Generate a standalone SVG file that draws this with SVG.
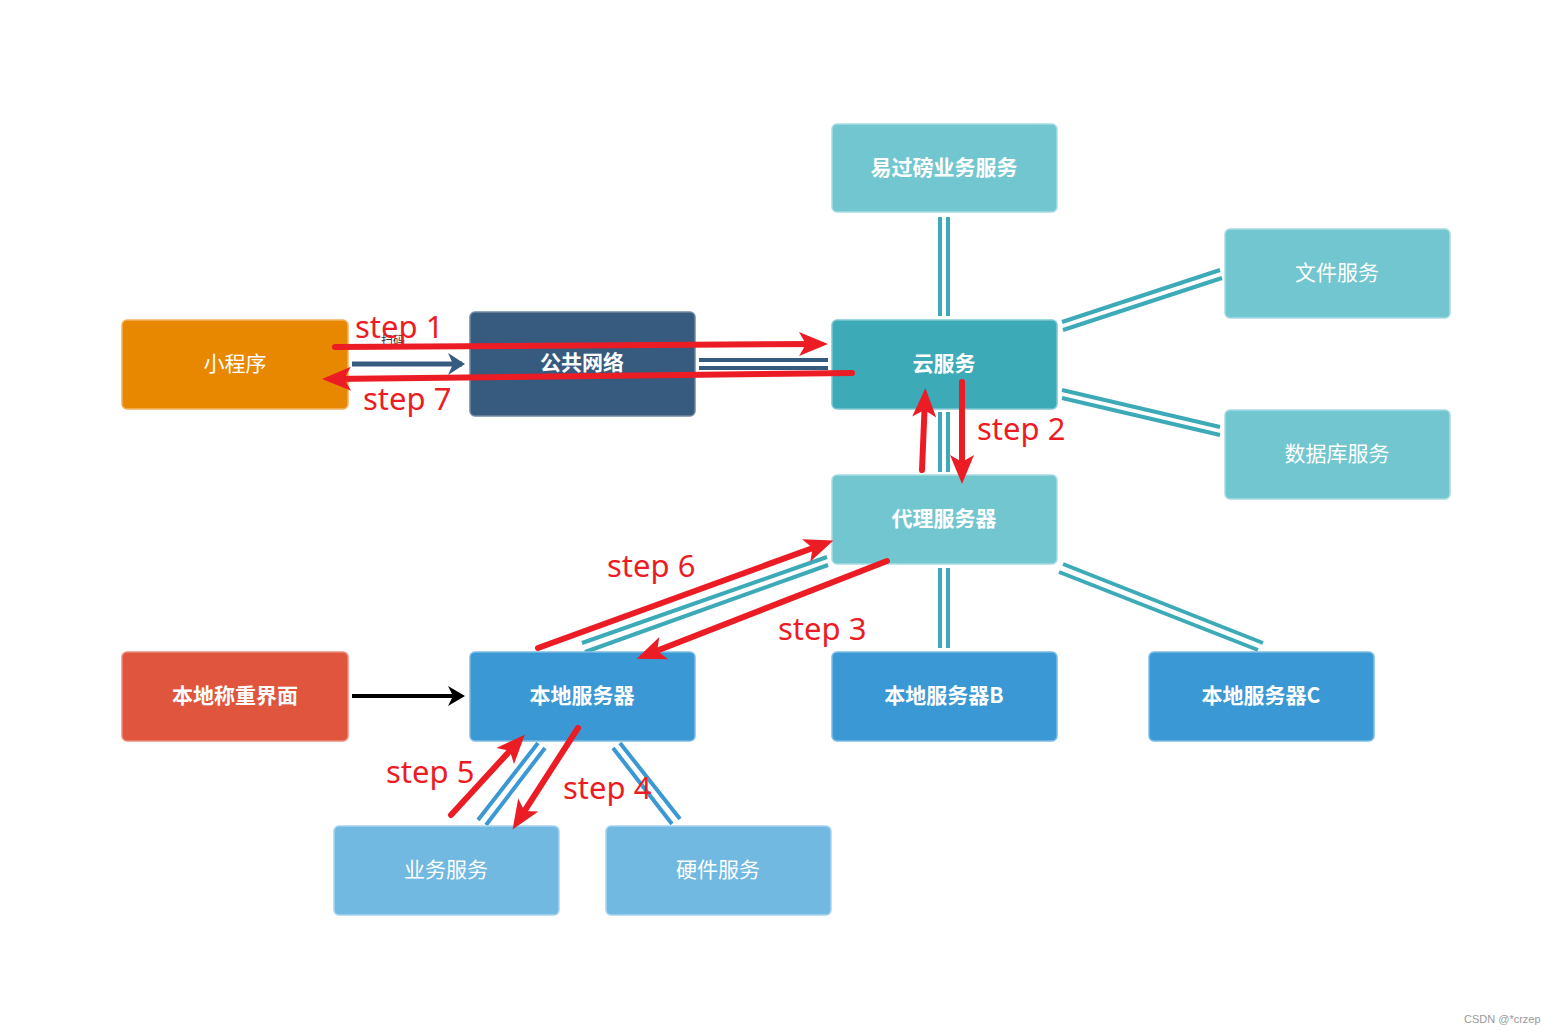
<svg xmlns="http://www.w3.org/2000/svg" width="1558" height="1034" viewBox="0 0 1558 1034">
<style>
.box{stroke-width:1.5;}
.t{font-family:"Noto Sans CJK SC","Noto Sans",sans-serif;fill:#fff;text-anchor:middle;dominant-baseline:central;font-size:21px;}
.b{font-weight:bold;}
.teal{fill:#3DAAB8;stroke:#7CC7D0;}
.lteal{fill:#72C6CF;stroke:#A6DCE2;}
.blue{fill:#3A99D5;stroke:#7DBCE4;}
.lblue{fill:#72B9E2;stroke:#A8D3EE;}
.dl{stroke:#3DAAB8;stroke-width:4;fill:none;}
.dlb{stroke:#3A99D5;stroke-width:4;fill:none;}
.dln{stroke:#375A7F;stroke-width:4;fill:none;}
.red{stroke:#EC1C24;stroke-width:6;stroke-linecap:round;fill:none;marker-end:url(#rh);}
.st{font-family:"Noto Sans","Open Sans",sans-serif;fill:#EC1C24;font-size:31px;}
</style>
<defs>
<marker id="rh" markerUnits="userSpaceOnUse" viewBox="-22 -14 34 28" refX="0" refY="0" markerWidth="34" markerHeight="28" orient="auto">
<path d="M10,0 L-19,-12 L-12,0 L-19,12 Z" fill="#EC1C24"/>
</marker>
<marker id="nh" markerUnits="userSpaceOnUse" viewBox="-20 -14 24 28" refX="0" refY="0" markerWidth="24" markerHeight="28" orient="auto">
<path d="M3,0 L-14,-11 L-9,0 L-14,11 Z" fill="#375A7F"/>
</marker>
<marker id="kh" markerUnits="userSpaceOnUse" viewBox="-20 -12 24 24" refX="0" refY="0" markerWidth="24" markerHeight="24" orient="auto">
<path d="M3,0 L-14,-10 L-9,0 L-14,10 Z" fill="#000"/>
</marker>
</defs>
<rect width="1558" height="1034" fill="#fff"/>

<g id="connectors">
<path class="dl" d="M940,217 V316 M948,217 V316"/>
<path class="dl" d="M1062,322 L1220,270 M1063,330 L1222,278"/>
<path class="dl" d="M1062,390 L1220,427 M1062,398 L1220,435"/>
<path class="dl" d="M940,412 V472 M948,412 V472"/>
<path class="dl" d="M940,568 V648 M948,568 V648"/>
<path class="dl" d="M1063,564 L1263,643 M1059,572 L1258,650"/>
<path class="dl" d="M827,557 L582,643 M828,565 L585,652"/>
<path class="dln" d="M699,360 H828 M699,368 H828"/>
<path class="dlb" d="M538,743 L478,820 M545,748 L486,825"/>
<path class="dlb" d="M613,748 L672,824 M620,743 L680,819"/>
<line x1="352" y1="364" x2="462" y2="364" stroke="#375A7F" stroke-width="5" marker-end="url(#nh)"/>
<line x1="352" y1="696" x2="462" y2="696" stroke="#000" stroke-width="4" marker-end="url(#kh)"/>
</g>

<g id="n-miniapp"><rect class="box" x="122" y="320" width="226" height="89" rx="5" fill="#E88800" stroke="#F2B25E"/><text class="t" x="235" y="362">小程序</text></g>
<g id="n-public"><rect class="box" x="470" y="312" width="225" height="104" rx="5" fill="#375A7F" stroke="#6F88A3"/><text class="t b" x="582" y="361" font-size="24">公共网络</text></g>
<g id="n-cloud"><rect class="box teal" x="832" y="320" width="225" height="89" rx="5"/><text class="t b" x="944" y="362">云服务</text></g>
<g id="n-weigh"><rect class="box lteal" x="832" y="124" width="225" height="88" rx="5"/><text class="t b" x="944" y="166">易过磅业务服务</text></g>
<g id="n-file"><rect class="box lteal" x="1225" y="229" width="225" height="89" rx="5"/><text class="t" x="1337" y="271">文件服务</text></g>
<g id="n-db"><rect class="box lteal" x="1225" y="410" width="225" height="89" rx="5"/><text class="t" x="1337" y="452">数据库服务</text></g>
<g id="n-proxy"><rect class="box lteal" x="832" y="475" width="225" height="89" rx="5"/><text class="t b" x="944" y="517">代理服务器</text></g>
<g id="n-ui"><rect class="box" x="122" y="652" width="226" height="89" rx="5" fill="#E0553D" stroke="#EC8C7A"/><text class="t b" x="235" y="694">本地称重界面</text></g>
<g id="n-local"><rect class="box blue" x="470" y="652" width="225" height="89" rx="5"/><text class="t b" x="582" y="694">本地服务器</text></g>
<g id="n-localB"><rect class="box blue" x="832" y="652" width="225" height="89" rx="5"/><text class="t b" x="944" y="694">本地服务器B</text></g>
<g id="n-localC"><rect class="box blue" x="1149" y="652" width="225" height="89" rx="5"/><text class="t b" x="1261" y="694">本地服务器C</text></g>
<g id="n-biz"><rect class="box lblue" x="334" y="826" width="225" height="89" rx="5"/><text class="t" x="446" y="868">业务服务</text></g>
<g id="n-hw"><rect class="box lblue" x="606" y="826" width="225" height="89" rx="5"/><text class="t" x="718" y="868">硬件服务</text></g>

<text x="393" y="345" font-family="Noto Sans CJK SC,sans-serif" font-size="12" fill="#333" text-anchor="middle">扫码</text>

<g id="steps">
<path class="red" d="M335,347 L818,344"/>
<path class="red" d="M852,373 L332,379"/>
<path class="red" d="M962,382 L962,474"/>
<path class="red" d="M922,470 L925,398"/>
<path class="red" d="M538,648 L824,544"/>
<path class="red" d="M887,561 L646,655"/>
<path class="red" d="M451,815 L518,742"/>
<path class="red" d="M578,728 L518,821"/>
<text class="st" x="355" y="338">step 1</text>
<text class="st" x="363" y="410">step 7</text>
<text class="st" x="977" y="440">step 2</text>
<text class="st" x="607" y="577">step 6</text>
<text class="st" x="778" y="640">step 3</text>
<text class="st" x="386" y="783">step 5</text>
<text class="st" x="563" y="799">step 4</text>
</g>
<text x="1464" y="1023" font-family="Liberation Sans,Arial,sans-serif" font-size="11" fill="#999">CSDN @*crzep</text>
</svg>
